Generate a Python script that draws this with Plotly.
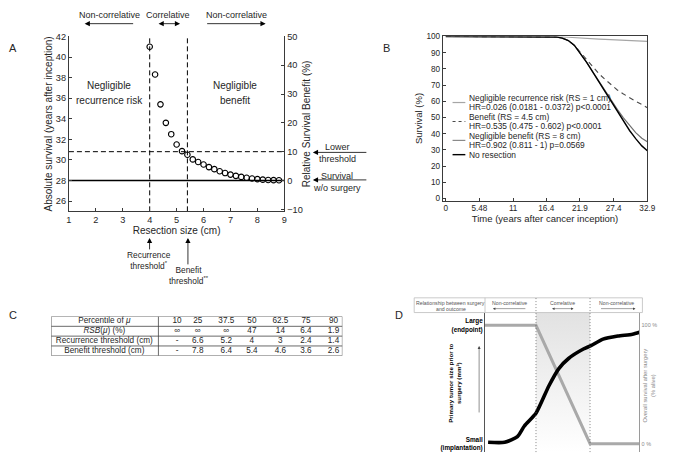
import plotly.graph_objects as go

W, H = 675, 460
FONT = "Liberation Sans, Arial, Helvetica, sans-serif"
TXT = "#262626"
AXC = "#3a3a3a"


def fx(p):
    return p / W


def fy(p):
    return 1 - p / H


# ---------------- Panel A data ----------------
resection_size_cm = [4.0, 4.2, 4.4, 4.6, 4.8, 5.0, 5.2, 5.4, 5.6, 5.8, 6.0, 6.2, 6.4,
                     6.6, 6.8, 7.0, 7.2, 7.4, 7.6, 7.8, 8.0, 8.2, 8.4, 8.6, 8.8]
absolute_survival_yrs = [41.0, 38.3, 35.4, 33.6, 32.5, 31.5, 30.85, 30.5, 30.05, 29.8, 29.55,
                         29.3, 29.1, 28.9, 28.72, 28.57, 28.45, 28.35, 28.26, 28.19, 28.13,
                         28.08, 28.05, 28.03, 28.02]
survival_without_surgery = 28.0
lower_threshold_pct = 10
recurrence_threshold_cm = 4.0
benefit_threshold_cm = 5.4
a_x_range = [1, 9]
a_y_range = [25, 42]
a_x_ticks = [1, 2, 3, 4, 5, 6, 7, 8, 9]
a_y_ticks = [26, 28, 30, 32, 34, 36, 38, 40, 42]
a_y2_ticks = [-10, 0, 10, 20, 30, 40, 50]

# ---------------- Panel B data ----------------
time_years = [0, 16, 17, 18, 19, 20, 21, 22, 23, 24, 25, 26, 27, 28, 29, 30, 31, 32, 32.9]
surv_negl_recurrence = [100, 100, 100, 99.9, 99.7, 99.5, 99.2, 99.0, 98.8, 98.6, 98.4, 98.2,
                        98.0, 97.8, 97.6, 97.5, 97.3, 97.1, 97.0]
surv_benefit = [100, 100, 100, 99.7, 99.0, 97.5, 94.5, 90.0, 85.5, 81.0, 77.0, 73.5, 70.0,
                67.0, 64.5, 62.0, 60.0, 58.0, 56.0]
surv_negl_benefit = [100, 100, 100, 99.7, 99.0, 97.5, 94.5, 89.5, 84.0, 78.2, 72.3, 66.3,
                     60.3, 55.0, 49.8, 45.0, 40.7, 37.2, 35.0]
surv_no_resection = [100, 100, 100, 99.7, 99.0, 97.5, 94.5, 89.5, 84.0, 78.0, 72.0, 66.0,
                     60.0, 54.5, 48.0, 42.0, 37.0, 32.5, 29.5]
b_x_tickvals = [0, 5.48, 11, 16.4, 21.9, 27.4, 32.9]
b_x_ticktext = ["0", "5.48", "11", "16.4", "21.9", "27.4", "32.9"]
b_y_ticks = [0, 10, 20, 30, 40, 50, 60, 70, 80, 90, 100]
b_legend_lines = [
    ["Negligible recurrence risk (RS = 1 cm)", "HR=0.026 (0.0181 - 0.0372) p<0.0001"],
    ["Benefit (RS = 4.5 cm)", "HR=0.535 (0.475 - 0.602) p<0.0001"],
    ["Negligible benefit (RS = 8 cm)", "HR=0.902 (0.811 - 1) p=0.0569"],
    ["No resection"],
]

# ---------------- Panel C data ----------------
table_header = ["Percentile of <i>μ</i>", "10", "25", "37.5", "50", "62.5", "75", "90"]
table_rsb = ["<i>RSB</i>(<i>μ</i>) (%)", "∞", "∞", "∞", "47", "14", "6.4", "1.9"]
table_recurrence = ["Recurrence threshold (cm)", "-", "6.6", "5.2", "4", "3", "2.4", "1.4"]
table_benefit = ["Benefit threshold (cm)", "-", "7.8", "6.4", "5.4", "4.6", "3.6", "2.6"]

# ---------------- Panel D data (schematic) ----------------
d_thresholds = [0.33, 0.68]
d_size_x = [0.0, 0.33, 0.68, 1.0]
d_size_y = [100, 100, 0, 0]
d_surv_x = [0.02, 0.127, 0.21, 0.255, 0.331, 0.414, 0.478, 0.541, 0.637, 0.682, 0.764,
            0.86, 0.955, 1.0]
d_surv_y = [1.2, 1.2, 6.0, 15.0, 26.0, 49.0, 63.5, 72.0, 80.0, 82.6, 88.4, 91.0, 92.5, 94.2]
d_y_range = [-7.05, 110.8]

# ---------------- layout constants (pixels) ----------------
table_col_x = [103, 177, 198, 227, 253, 282, 308, 336]
table_x_range = [49, 345]
table_vlines = [49, 158, 345]

fig = go.Figure()
DASH = "5px,3px"

# ---- Panel A traces ----
lower_abs = survival_without_surgery * (1 + lower_threshold_pct / 100)
fig.add_trace(go.Scatter(x=a_x_range, y=[survival_without_surgery] * 2, mode="lines",
                         line=dict(color="black", width=1.3), xaxis="x", yaxis="y",
                         hoverinfo="skip"))
fig.add_trace(go.Scatter(x=a_x_range, y=[lower_abs] * 2, mode="lines",
                         line=dict(color="black", width=1, dash=DASH), xaxis="x", yaxis="y",
                         hoverinfo="skip"))
for thr in [recurrence_threshold_cm, benefit_threshold_cm]:
    fig.add_trace(go.Scatter(x=[thr, thr], y=a_y_range, mode="lines",
                             line=dict(color="black", width=1, dash=DASH), xaxis="x",
                             yaxis="y", hoverinfo="skip"))
fig.add_trace(go.Scatter(x=resection_size_cm, y=absolute_survival_yrs, mode="markers",
                         marker=dict(symbol="circle-open", size=5.5, color="black",
                                     line=dict(width=1.1, color="black")),
                         xaxis="x", yaxis="y"))
rel_benefit = [(v - survival_without_surgery) / survival_without_surgery * 100
               for v in absolute_survival_yrs]
fig.add_trace(go.Scatter(x=resection_size_cm, y=rel_benefit, mode="markers",
                         marker=dict(size=1, opacity=0), xaxis="x", yaxis="y2",
                         hoverinfo="skip"))

# ---- Panel B traces ----
b_styles = [
    (surv_negl_recurrence, dict(color="#a6a6a6", width=1.2)),
    (surv_benefit, dict(color="#4a4a4a", width=1.1, dash="5px,4px")),
    (surv_negl_benefit, dict(color="#6f6f6f", width=1.2)),
    (surv_no_resection, dict(color="black", width=1.4)),
]
for ys, ln in b_styles:
    fig.add_trace(go.Scatter(x=time_years, y=ys, mode="lines", line=ln, xaxis="x3",
                             yaxis="y3", hoverinfo="skip"))

# ---- Panel C (table as text) ----
table_rows = [table_header, table_rsb, table_recurrence, table_benefit]
for r, row in enumerate(table_rows):
    fig.add_trace(go.Scatter(x=table_col_x, y=[r + 0.5] * len(row), mode="text", text=row,
                             textfont=dict(family=FONT, size=8.2, color=TXT),
                             textposition="middle center", xaxis="x4", yaxis="y4",
                             hoverinfo="skip"))

# ---- Panel D traces ----
fig.add_trace(go.Scatter(x=[d_thresholds[0], d_thresholds[1], d_thresholds[1], d_thresholds[0],
                            d_thresholds[0]],
                         y=[d_y_range[0], d_y_range[0], d_y_range[1], d_y_range[1],
                            d_y_range[0]],
                         mode="lines", line=dict(width=0), fill="toself",
                         fillgradient=dict(type="vertical",
                                           colorscale=[[0, "rgba(255,255,255,1)"],
                                                       [1, "rgba(226,226,226,1)"]]),
                         xaxis="x5", yaxis="y5", hoverinfo="skip"))
fig.add_trace(go.Scatter(x=d_size_x, y=d_size_y, mode="lines",
                         line=dict(color="#a9a9a9", width=3), xaxis="x5", yaxis="y5",
                         hoverinfo="skip"))
fig.add_trace(go.Scatter(x=d_surv_x, y=d_surv_y, mode="lines",
                         line=dict(color="black", width=3.6, shape="spline", smoothing=0.6),
                         xaxis="x5", yaxis="y6", hoverinfo="skip"))

# ---------------- axes ----------------
base = dict(showgrid=False, zeroline=False, showline=True, linecolor=AXC, linewidth=1,
            ticks="inside", ticklen=3, tickwidth=1, tickcolor=AXC,
            tickfont=dict(family=FONT, size=9.2, color=TXT))

layout = dict(
    width=W, height=H, margin=dict(l=0, r=0, t=0, b=0),
    paper_bgcolor="white", plot_bgcolor="rgba(0,0,0,0)", showlegend=False,
    font=dict(family=FONT, color=TXT),
    xaxis=dict(base, domain=[fx(67), fx(286)], range=a_x_range, tickvals=a_x_ticks,
               anchor="y",
               title=dict(text="Resection size (cm)", font=dict(size=10, color=TXT),
                          standoff=1)),
    yaxis=dict(base, domain=[fy(210), fy(32)], range=a_y_range, tickvals=a_y_ticks,
               anchor="x",
               title=dict(text="Absolute survival (years after inception)",
                          font=dict(size=10, color=TXT), standoff=1)),
    yaxis2=dict(base, overlaying="y", side="right", anchor="x",
                range=[(a_y_range[0] - survival_without_surgery) / survival_without_surgery * 100,
                       (a_y_range[1] - survival_without_surgery) / survival_without_surgery * 100],
                tickvals=a_y2_ticks,
                title=dict(text="Relative Survival Benefit (%)", font=dict(size=10, color=TXT),
                           standoff=1)),
    xaxis3=dict(base, domain=[fx(447), fx(655)], range=[-0.5, 32.9], tickvals=b_x_tickvals,
                ticktext=b_x_ticktext, anchor="y3", mirror=True,
                tickfont=dict(family=FONT, size=8.2, color=TXT),
                title=dict(text="Time (years after cancer inception)",
                           font=dict(size=9.5, color=TXT), standoff=2)),
    yaxis3=dict(base, domain=[fy(199), fy(32)], range=[-1.2, 100], tickvals=b_y_ticks,
                anchor="x3", mirror=True,
                tickfont=dict(family=FONT, size=8.2, color=TXT),
                title=dict(text="Survival (%)", font=dict(size=9.5, color=TXT), standoff=2)),
    xaxis4=dict(domain=[fx(table_x_range[0]), fx(table_x_range[1])], range=table_x_range,
                visible=False, anchor="y4"),
    yaxis4=dict(domain=[fy(357), fy(317)], range=[len(table_rows), 0], visible=False,
                anchor="x4"),
    xaxis5=dict(domain=[fx(490), fx(647)], range=[0, 1], visible=False, anchor="y5"),
    yaxis5=dict(domain=[fy(455), fy(313)], range=d_y_range, showgrid=False, zeroline=False,
                showline=True, linecolor="#555555", linewidth=1, ticks="", anchor="x5",
                tickvals=[0, 100],
                ticktext=["<b>Small</b><br><b>(implantation)</b>",
                          "<b>Large</b><br><b>(endpoint)</b>"],
                tickfont=dict(family=FONT, size=6.4, color="black")),
    yaxis6=dict(overlaying="y5", side="right", anchor="x5", range=d_y_range, showgrid=False,
                zeroline=False, showline=True, linecolor="#9a9a9a", linewidth=1, ticks="",
                tickvals=[0, 100], ticktext=["0 %", "100 %"],
                tickfont=dict(family=FONT, size=5.5, color="#8a8a8a")),
)

shapes = []
annotations = []


def label(x, y, text, size=9, color=TXT, xanchor="center", angle=0):
    annotations.append(dict(x=fx(x), y=fy(y), xref="paper", yref="paper", text=text,
                            showarrow=False, xanchor=xanchor, yanchor="middle",
                            textangle=angle, borderpad=0,
                            font=dict(family=FONT, size=size, color=color)))


def arrow(xh, yh, xt, yt, both=False, width=0.8, size=1.3, color="black", head=2):
    annotations.append(dict(x=fx(xh), y=fy(yh), xref="paper", yref="paper",
                            ax=xt - xh, ay=yt - yh, axref="pixel", ayref="pixel", text="",
                            showarrow=True, arrowhead=head, arrowsize=size,
                            arrowwidth=width, arrowcolor=color,
                            arrowside="end+start" if both else "end",
                            startarrowhead=head, startarrowsize=size,
                            standoff=0, startstandoff=0))


def pline(x0, y0, x1, y1, color="black", width=1, dash=None):
    ln = dict(color=color, width=width)
    if dash:
        ln["dash"] = dash
    shapes.append(dict(type="line", xref="paper", yref="paper", x0=fx(x0), y0=fy(y0),
                       x1=fx(x1), y1=fy(y1), line=ln, layer="above"))


# Panel labels
label(10, 44, "A", size=11)
label(390, 44, "B", size=11)
label(10, 315, "C", size=11)
label(403, 315, "D", size=11)

# Panel A header
label(108, 10, "Non-correlative", size=9)
arrow(83, 19, 133, 19)
label(168, 10, "Correlative", size=9)
arrow(180, 19, 157, 19, both=True)
label(237, 10, "Non-correlative", size=9)
arrow(267, 19, 207, 19)

# Panel A inner text
label(108, 82, "Negligible", size=10)
label(108, 97, "recurrence risk", size=10)
label(236, 82, "Negligible", size=10)
label(236, 97, "benefit", size=10)

# Panel A right side
label(340, 145, "Lower", size=9)
label(340, 157, "threshold", size=9)
arrow(315, 150, 370, 150)
label(340, 174, "Survival", size=9)
label(340, 186, "w/o surgery", size=9)
arrow(315, 178, 370, 178)

# Panel A bottom
arrow(149, 237, 149, 250)
label(148, 260, "Recurrence<br>threshold<sup>*</sup>", size=8.4)
arrow(188, 237, 188, 265)
label(189, 275, "Benefit<br>threshold<sup>**</sup>", size=8.4)

# Panel B legend (manual)
leg_y = [[94.5, 104], [113.7, 123.3], [133, 142.6], [152.3]]
leg_styles = [dict(color="#a6a6a6", width=1.2), dict(color="#4a4a4a", width=1.1, dash="3px,3px"),
              dict(color="#8a8a8a", width=1.2), dict(color="black", width=1.4)]
for lines, ys, st in zip(b_legend_lines, leg_y, leg_styles):
    for t, yy in zip(lines, ys):
        label(473, yy, t.replace("<", "&lt;"), size=8.4, xanchor="left")
    ymid = sum(ys) / len(ys)
    pline(457, ymid, 470, ymid, color=st["color"], width=st["width"], dash=st.get("dash"))

# Panel C table lines
for r in range(len(table_rows) + 1):
    shapes.append(dict(type="line", xref="x4", yref="y4", x0=table_x_range[0], x1=table_x_range[1],
                       y0=r, y1=r, line=dict(color="#444444", width=0.8)))
for vx in table_vlines:
    shapes.append(dict(type="line", xref="x4", yref="y4", x0=vx, x1=vx, y0=0,
                       y1=len(table_rows), line=dict(color="#444444", width=0.8)))

# Panel D header box
HB = "#bdbdbd"
shapes.append(dict(type="rect", xref="paper", yref="paper", x0=fx(418), x1=fx(650),
                   y0=fy(313), y1=fy(298), line=dict(color=HB, width=0.8)))
pline(490, 298, 490, 313, color=HB, width=0.8)
for tx in d_thresholds:
    shapes.append(dict(type="line", xref="x5", yref="paper", x0=tx, x1=tx, y0=fy(455),
                       y1=fy(298), line=dict(color="#555555", width=0.7, dash="1px,2px")))
label(455, 303, "Relationship between surgery", size=5.2, color="#555555")
label(455, 309, "and outcome", size=5.2, color="#555555")
label(515, 303, "Non-correlative", size=5.2, color="#555555")
arrow(498, 309, 532, 309, width=0.5, size=1, color="#444444")
label(569, 303, "Correlative", size=5.2, color="#555555")
arrow(580, 309, 557, 309, both=True, width=0.5, size=1, color="#444444")
label(624, 303, "Non-correlative", size=5.2, color="#555555")
arrow(643, 309, 607, 309, width=0.5, size=1, color="#444444")

# Panel D side titles
label(459, 385, "<b>Primary tumor size prior to</b><br><b>surgery (mm³)</b>", size=6.2,
      color="black", angle=-90)
arrow(484, 347, 484, 415, width=0.6, size=1, color="#444444")
label(657, 387, "Overall survival after surgery<br>(% alive)", size=5.8, color="#8a8a8a",
      angle=-90)

layout["shapes"] = shapes
layout["annotations"] = annotations
fig.update_layout(layout)

fig.write_html("out.html", config={"displayModeBar": False},
               post_script="document.body.style.margin='0';")
